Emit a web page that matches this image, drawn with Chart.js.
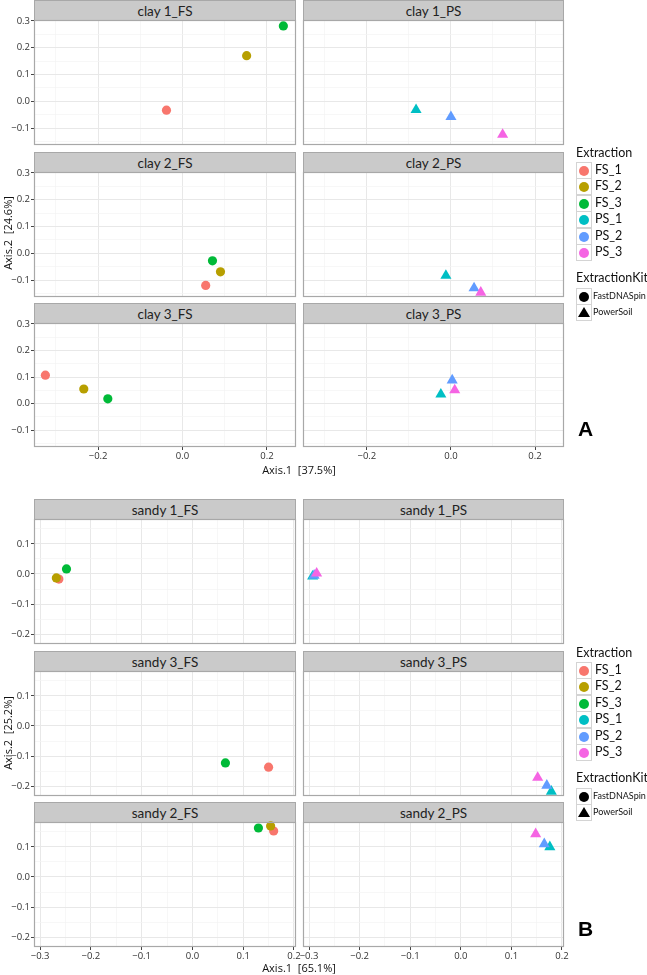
<!DOCTYPE html>
<html>
<head>
<meta charset="utf-8">
<script src="https://cdn.jsdelivr.net/npm/chart.js@4/dist/chart.umd.min.js"></script>
<style>
  body { margin: 0; background: #fff; font-family: Lato, "Open Sans", sans-serif; }
  #page { position: relative; width: 647px; height: 975px; overflow: hidden; }
  #page canvas { position: absolute; }
  .strip { position: absolute; box-sizing: border-box; background: #cacaca; border: 1px solid #a8a8a8; border-bottom: none;
           text-align: center; font-size: 13.5px; color: #222; }
  .axtitle { position: absolute; width: 220px; height: 16px; line-height: 16px; text-align: center; font-size: 11px; color: #111; white-space: pre; font-family: "Open Sans", sans-serif; }
  .lgtitle { position: absolute; font-size: 12.5px; color: #111; line-height: 14px; white-space: nowrap; }
  .lgbox { position: absolute; box-sizing: border-box; width: 16px; height: 17px; border: 1px solid #d4d4d4; background: #fff; }
  .lgtext { position: absolute; line-height: 16px; color: #111; white-space: nowrap; }
  .dot { position: absolute; left: 2px; top: 3px; width: 10px; height: 10px; border-radius: 50%; }
  .tri { position: absolute; left: 1px; top: 2px; width: 0; height: 0; border-left: 6px solid transparent; border-right: 6px solid transparent; border-bottom: 10px solid #000; }
  .tag { position: absolute; font-family: "Liberation Sans", Arial, sans-serif; font-weight: bold; font-size: 21px; color: #000; }
</style>
</head>
<body>
<div id="page"></div>
<script>
// extraction groups and their colours (ggplot default hues)
const extractions = ["FS_1", "FS_2", "FS_3", "PS_1", "PS_2", "PS_3"];
const extractionColours = ["#F8766D", "#B79F00", "#00BA38", "#00BFC4", "#619CFF", "#F564E3"];
const kits = ["FastDNASpin", "PowerSoil"];

// [extraction, Axis.1, Axis.2]
const clay1FS = [["FS_1", -0.038, -0.033], ["FS_2", 0.152, 0.170], ["FS_3", 0.239, 0.281]];
const clay1PS = [["PS_1", -0.083, -0.032], ["PS_2", 0.000, -0.058], ["PS_3", 0.123, -0.124]];
const clay2FS = [["FS_1", 0.055, -0.120], ["FS_2", 0.090, -0.069], ["FS_3", 0.071, -0.028]];
const clay2PS = [["PS_1", -0.012, -0.083], ["PS_2", 0.055, -0.130], ["PS_3", 0.071, -0.146]];
const clay3FS = [["FS_1", -0.325, 0.107], ["FS_2", -0.234, 0.055], ["FS_3", -0.177, 0.018]];
const clay3PS = [["PS_1", -0.024, 0.035], ["PS_2", 0.003, 0.088], ["PS_3", 0.009, 0.051]];

const sandy1FS = [["FS_1", -0.263, -0.017], ["FS_2", -0.268, -0.013], ["FS_3", -0.248, 0.017]];
const sandy1PS = [["PS_1", -0.293, -0.008], ["PS_2", -0.290, -0.005], ["PS_3", -0.285, 0.002]];
const sandy3FS = [["FS_1", 0.150, -0.137], ["FS_3", 0.065, -0.123]];
const sandy3PS = [["PS_1", 0.179, -0.218], ["PS_2", 0.170, -0.198], ["PS_3", 0.152, -0.172]];
const sandy2FS = [["FS_1", 0.160, 0.153], ["FS_2", 0.154, 0.170], ["FS_3", 0.130, 0.163]];
const sandy2PS = [["PS_1", 0.176, 0.100], ["PS_2", 0.165, 0.110], ["PS_3", 0.148, 0.143]];

// axes: ranges, all gridline positions, labelled (major) positions
const xRangeA = [-0.352, 0.269], yRangeA = [-0.163, 0.303];
const xGridA = [-0.3, -0.2, -0.1, 0, 0.1, 0.2], xMajorA = [-0.2, 0, 0.2];
const yGridA = [-0.15, -0.1, -0.05, 0, 0.05, 0.1, 0.15, 0.2, 0.25, 0.3], yMajorA = [-0.1, 0, 0.1, 0.2, 0.3];

const xRangeB = [-0.312, 0.204], yRangeB = [-0.233, 0.183];
const xGridB = [-0.3, -0.25, -0.2, -0.15, -0.1, -0.05, 0, 0.05, 0.1, 0.15, 0.2], xMajorB = [-0.3, -0.2, -0.1, 0, 0.1, 0.2];
const yGridB = [-0.2, -0.15, -0.1, -0.05, 0, 0.05, 0.1, 0.15], yMajorB = [-0.2, -0.1, 0, 0.1];

const page = document.getElementById("page");
const M = 14; // spare canvas margin so labels/points aren't cut

const isMajor = (majors, v) => majors.some(m => Math.abs(m - v) < 1e-9);
const fmt = v => (v < -1e-9 ? "\u2212" : "") + Math.abs(v).toFixed(1);

const panelFrame = {
  id: "panelFrame",
  afterDatasetsDraw(chart) {
    const a = chart.chartArea, ctx = chart.ctx;
    ctx.save();
    ctx.strokeStyle = "#a8a8a8";
    ctx.lineWidth = 1.2;
    ctx.strokeRect(a.left + 0.5, a.top + 0.5, a.right - a.left - 1, a.bottom - a.top - 1);
    ctx.restore();
  }
};

function el(cls, css, html) {
  const d = document.createElement("div");
  d.className = cls;
  Object.assign(d.style, css);
  if (html !== undefined) d.innerHTML = html;
  page.appendChild(d);
  return d;
}

function axisOpts(range, grid, majors, showLabels, fixed, horizontal) {
  return {
    type: "linear",
    min: range[0], max: range[1],
    afterBuildTicks: s => { s.ticks = grid.map(v => ({ value: v })); },
    afterFit: s => {
      if (horizontal) s.height = fixed; else s.width = fixed;
      s.paddingLeft = s.paddingRight = s.paddingTop = s.paddingBottom = 0;
    },
    border: { display: false },
    grid: {
      color: c => (c.tick && isMajor(majors, c.tick.value)) ? "#e8e8e8" : "#f3f3f3",
      lineWidth: c => (c.tick && isMajor(majors, c.tick.value)) ? 1 : 0.7,
      drawTicks: showLabels,
      tickLength: 3,
      tickColor: c => (c.tick && isMajor(majors, c.tick.value)) ? "#444" : "rgba(0,0,0,0)"
    },
    ticks: {
      display: showLabels,
      autoSkip: false,
      maxRotation: 0,
      padding: 1,
      color: "#333",
      font: { family: "Open Sans", size: 9.5 },
      callback: v => isMajor(majors, v) ? fmt(v) : ""
    }
  };
}

function panel(label, points, col, row, fig) {
  const [x0, x1] = fig.cols[col];
  const [sTop, pTop, pBot] = fig.rows[row];
  const w = x1 - x0, h = pBot - pTop;
  const padL = col === 0 ? 34 : 0;
  const padB = row === 2 ? 16 : 0;

  el("strip", { left: x0 + "px", top: sTop + "px", width: w + "px", height: (pTop - sTop) + "px", lineHeight: (pTop - sTop) + "px" }, label);

  const cv = document.createElement("canvas");
  const cw = M + padL + w + M, ch = M + h + padB + M;
  cv.width = cw; cv.height = ch;
  Object.assign(cv.style, { left: (x0 - padL - M) + "px", top: (pTop - M) + "px", width: cw + "px", height: ch + "px" });
  page.appendChild(cv);

  const datasets = points.map(p => {
    const i = extractions.indexOf(p[0]);
    const ps = p[0].startsWith("PS");
    return {
      label: p[0],
      data: [{ x: p[1], y: p[2] }],
      backgroundColor: extractionColours[i],
      pointStyle: ps ? "triangle" : "circle",
      pointRadius: ps ? 6.4 : 4.6,
      pointBorderWidth: 0,
      clip: false
    };
  }).reverse(); // first dataset is painted last in Chart.js

  new Chart(cv, {
    type: "scatter",
    data: { datasets },
    options: {
      responsive: false,
      animation: false,
      layout: { padding: M },
      plugins: { legend: { display: false }, tooltip: { enabled: false } },
      scales: {
        x: axisOpts(fig.xRange, fig.xGrid, fig.xMajor, row === 2, padB, true),
        y: axisOpts(fig.yRange, fig.yGrid, fig.yMajor, col === 0, padL, false)
      }
    },
    plugins: [panelFrame]
  });
}

function legend(dy) {
  el("lgtitle", { left: "576px", top: (146 + dy) + "px" }, "Extraction");
  extractions.forEach((e, i) => {
    const c = 170 + dy + i * 16.4;
    const b = el("lgbox", { left: "576px", top: (c - 8) + "px" });
    const d = document.createElement("div");
    d.className = "dot"; d.style.background = extractionColours[i];
    b.appendChild(d);
    el("lgtext", { left: "595px", top: (c - 8) + "px", fontSize: "12.5px" }, e);
  });
  el("lgtitle", { left: "576px", top: (271 + dy) + "px" }, "ExtractionKit");
  kits.forEach((k, i) => {
    const c = 296 + dy + i * 16.4;
    const b = el("lgbox", { left: "576px", top: (c - 8) + "px" });
    const d = document.createElement("div");
    if (i === 0) { d.className = "dot"; d.style.background = "#000"; } else { d.className = "tri"; }
    b.appendChild(d);
    el("lgtext", { left: "593px", top: (c - 8) + "px", fontSize: "9px" }, k);
  });
}

const cols = [[34, 296], [303, 564]];
const figA = {
  cols, rows: [[0, 20, 145], [152, 172, 297], [303, 323, 447]],
  xRange: xRangeA, yRange: yRangeA, xGrid: xGridA, xMajor: xMajorA, yGrid: yGridA, yMajor: yMajorA
};
const figB = {
  cols, rows: [[499, 519, 644], [651, 671, 796], [802, 822, 947]],
  xRange: xRangeB, yRange: yRangeB, xGrid: xGridB, xMajor: xMajorB, yGrid: yGridB, yMajor: yMajorB
};

panel("clay 1_FS", clay1FS, 0, 0, figA);
panel("clay 1_PS", clay1PS, 1, 0, figA);
panel("clay 2_FS", clay2FS, 0, 1, figA);
panel("clay 2_PS", clay2PS, 1, 1, figA);
panel("clay 3_FS", clay3FS, 0, 2, figA);
panel("clay 3_PS", clay3PS, 1, 2, figA);

panel("sandy 1_FS", sandy1FS, 0, 0, figB);
panel("sandy 1_PS", sandy1PS, 1, 0, figB);
panel("sandy 3_FS", sandy3FS, 0, 1, figB);
panel("sandy 3_PS", sandy3PS, 1, 1, figB);
panel("sandy 2_FS", sandy2FS, 0, 2, figB);
panel("sandy 2_PS", sandy2PS, 1, 2, figB);

// axis titles
el("axtitle", { left: (8 - 110) + "px", top: (233 - 8) + "px", transform: "rotate(-90deg)" }, "Axis.2  [24.6%]");
el("axtitle", { left: (299 - 110) + "px", top: (470 - 8) + "px" }, "Axis.1  [37.5%]");
el("axtitle", { left: (8 - 110) + "px", top: (733 - 8) + "px", transform: "rotate(-90deg)" }, "Axis.2  [25.2%]");
el("axtitle", { left: (299 - 110) + "px", top: (968 - 8) + "px" }, "Axis.1  [65.1%]");

legend(0);
legend(500);

el("tag", { left: "578px", top: "417px" }, "A");
el("tag", { left: "578px", top: "917px" }, "B");
</script>
</body>
</html>
